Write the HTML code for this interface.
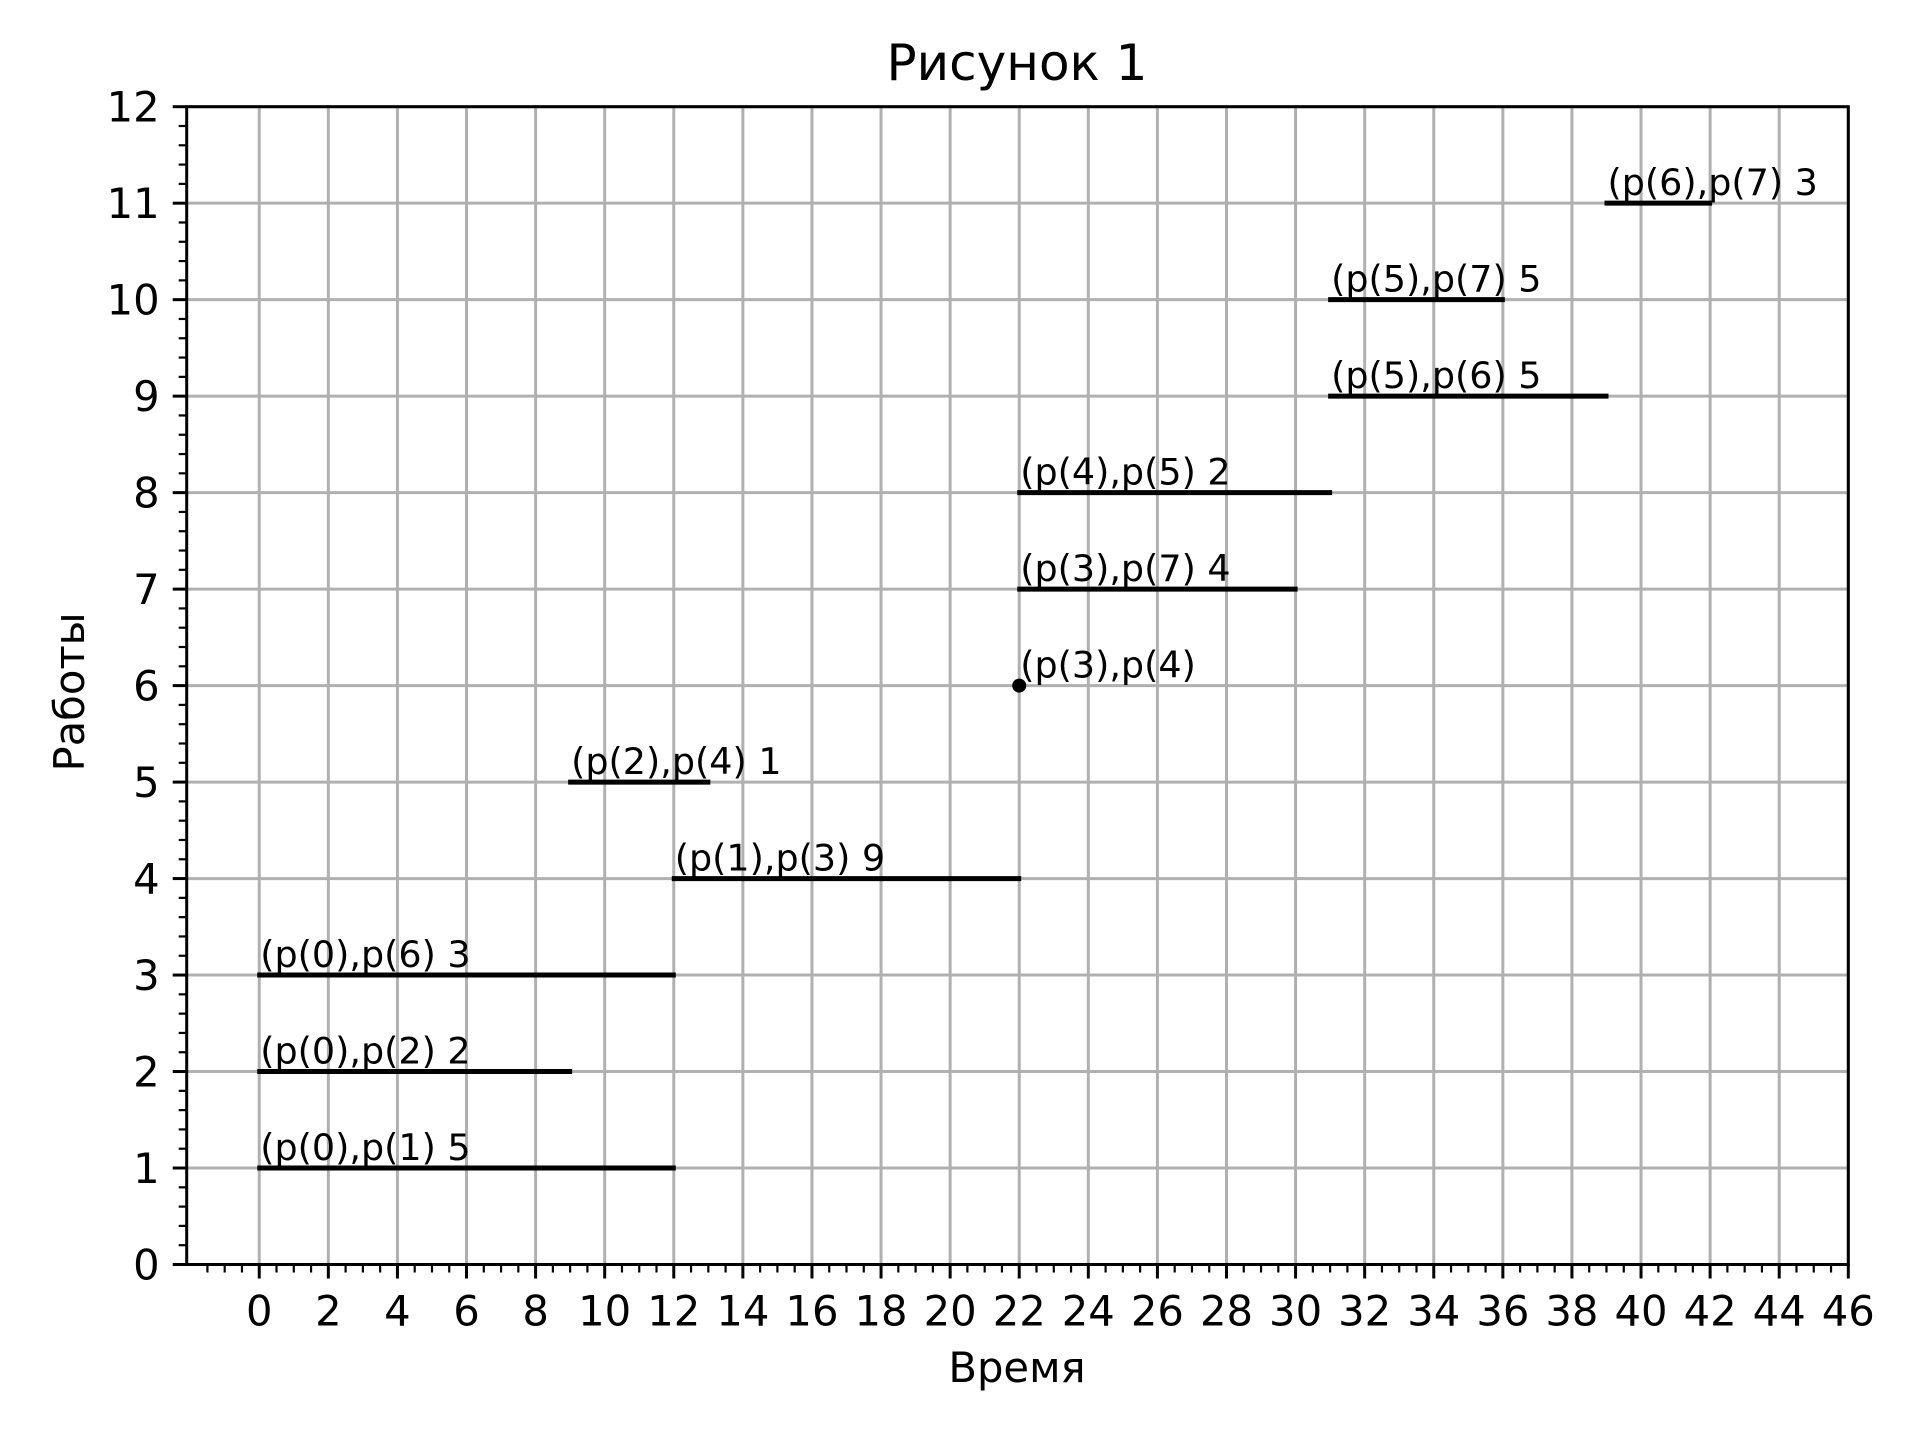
<!DOCTYPE html>
<html><head><meta charset="utf-8"><style>
html,body{margin:0;padding:0;background:#fff;}
svg{display:block;font-family:"DejaVu Sans","Liberation Sans",sans-serif;}
</style></head><body>
<svg id="chart" width="1920" height="1440" viewBox="0 0 1920 1440" xmlns="http://www.w3.org/2000/svg">
<rect width="1920" height="1440" fill="#fff"/>
<text x="1017" y="80" font-size="50" text-anchor="middle">Рисунок 1</text>
<text x="1017" y="1382" font-size="41.7" text-anchor="middle">Время</text>
<text transform="translate(84,692) rotate(-90)" font-size="41.7" text-anchor="middle">Работы</text>
<g id="grid"></g><g id="marks"></g><g id="axes"></g>
</svg>
<script>
const jobs = [1,2,3,4,5,6,7,8,9,10,11];
const starts = [0,0,0,12,9,22,22,22,31,31,39];
const ends = [12,9,12,22,13,22,30,31,39,36,42];
const labels = ["(p(0),p(1) 5","(p(0),p(2) 2","(p(0),p(6) 3","(p(1),p(3) 9","(p(2),p(4) 1","(p(3),p(4)","(p(3),p(7) 4","(p(4),p(5) 2","(p(5),p(6) 5","(p(5),p(7) 5","(p(6),p(7) 3"];
const xTicks = [0,2,4,6,8,10,12,14,16,18,20,22,24,26,28,30,32,34,36,38,40,42,44,46];
const yTicks = [0,1,2,3,4,5,6,7,8,9,10,11,12];

const L=186.7,R=1848.3,T=106.7,B=1264.5,X0=-2.1,X1=46,Y0=0,Y1=12;
const sx=v=>L+(v-X0)/(X1-X0)*(R-L);
const sy=v=>B-(v-Y0)/(Y1-Y0)*(B-T);
const NS="http://www.w3.org/2000/svg";
function mk(tag,attrs,parent){const e=document.createElementNS(NS,tag);for(const k in attrs)e.setAttribute(k,attrs[k]);parent.appendChild(e);return e;}
const grid=document.getElementById('grid'),marks=document.getElementById('marks'),axes=document.getElementById('axes');

xTicks.forEach(v=>{
  const g=mk('line',{x1:sx(v),x2:sx(v),y1:T,y2:B,stroke:'#b0b0b0','stroke-width':3},grid);
  
  
  const t=mk('line',{x1:sx(v),x2:sx(v),y1:B,y2:B+14,stroke:'#000','stroke-width':3},axes);
  
  
  const l=mk('text',{x:sx(v),y:B+61,'font-size':41.7,'text-anchor':'middle'},axes);
  l.textContent=v;
  
  
});
for(let v=-2;v<=46;v+=0.5){ if(v%2===0) continue;
  const t=mk('line',{x1:sx(v),x2:sx(v),y1:B,y2:B+8,stroke:'#000','stroke-width':2.2},axes);
  
  
}
yTicks.forEach(v=>{
  const g=mk('line',{x1:L,x2:R,y1:sy(v),y2:sy(v),stroke:'#b0b0b0','stroke-width':3},grid);
  
  
  const t=mk('line',{x1:L-14,x2:L,y1:sy(v),y2:sy(v),stroke:'#000','stroke-width':3},axes);
  
  
  const l=mk('text',{x:L-27,y:sy(v)+15,'font-size':41.7,'text-anchor':'end'},axes);
  l.textContent=v;
  
  
});
for(let i=0;i<=60;i++){ if(i%5===0) continue; const v=i*0.2;
  const t=mk('line',{x1:L-8,x2:L,y1:sy(v),y2:sy(v),stroke:'#000','stroke-width':2.2},axes);
  
  
}
const frame=mk('rect',{x:L,y:T,width:R-L,height:B-T,fill:'none',stroke:'#000','stroke-width':3},axes);



jobs.forEach((j,i)=>{
  if(starts[i]===ends[i]){
    const c=mk('circle',{cx:sx(starts[i]),cy:sy(j),r:7,fill:'#000'},marks);
    
    
  } else {
    const b=mk('line',{x1:sx(starts[i])-2,x2:sx(ends[i])+2,y1:sy(j),y2:sy(j),stroke:'#000','stroke-width':5},marks);
    
    
  }
  const t=mk('text',{x:sx(starts[i])+1,y:sy(j)-8,'font-size':36.5},marks);
  t.textContent=labels[i];
  
  
});
</script>
</body></html>
